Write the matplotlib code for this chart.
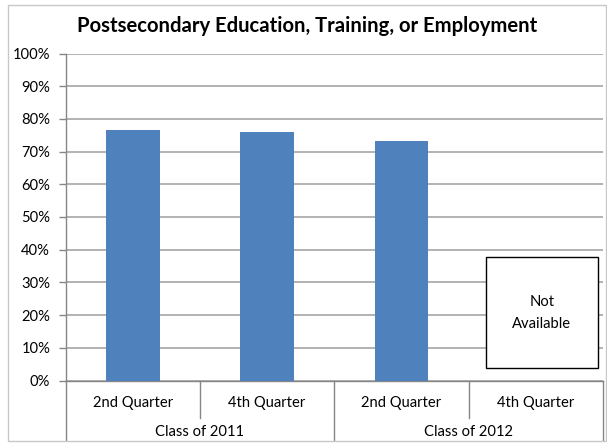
import matplotlib
matplotlib.use("Agg")
import matplotlib.pyplot as plt
from matplotlib.patches import Rectangle

plt.rcParams['font.family'] = ['Lato', 'DejaVu Sans']

quarters = ['2nd Quarter', '4th Quarter', '2nd Quarter', '4th Quarter']
classes = ['Class of 2011', 'Class of 2012']
rates = [0.767, 0.759, 0.733]   # last quarter of 2012 not reported yet
yticks = [0, 0.1, 0.2, 0.3, 0.4, 0.5, 0.6, 0.7, 0.8, 0.9, 1.0]

bar_color = '#4F81BD'
grid_color = '#A6A6A6'
axis_color = '#868686'
fs = 10.6

fig = plt.figure(figsize=(6.07, 4.45), dpi=100)
W, H = 607, 445
ax = fig.add_axes([65.5 / W, (H - 380.5) / H, (603 - 65.5) / W, (380.5 - 53.5) / H])

# outer chart border
fig.patches.append(Rectangle((8 / W, (H - 441) / H), (606 - 8) / W, (441 - 5) / H,
                             transform=fig.transFigure, fill=False,
                             edgecolor='#C8C8C8', lw=1.0))

x = list(range(len(rates)))
ax.bar(x, rates, width=0.4, color=bar_color, zorder=3)

ax.set_xlim(-0.5, len(quarters) - 0.5)
ax.set_ylim(0, 1.0)
ax.set_yticks(yticks)
ax.set_yticklabels([f'{int(round(v * 100))}%' for v in yticks], fontsize=fs)
ax.set_xticks([])
ax.yaxis.grid(True, color=grid_color, lw=1.2, zorder=0)
ax.tick_params(axis='y', length=5, width=1, color=axis_color, pad=6)

for side in ['top', 'right']:
    ax.spines[side].set_visible(False)
for side in ['left', 'bottom']:
    ax.spines[side].set_color(axis_color)
    ax.spines[side].set_linewidth(1)

# placeholder box for the missing quarter
ax.add_patch(Rectangle((2.63, 0.037), 0.83, 0.34, facecolor='white',
                       edgecolor='black', lw=1, zorder=4))
ax.text(3.045, 0.207, 'Not\nAvailable', ha='center', va='center',
        fontsize=fs, linespacing=1.75, zorder=5)

fig.text(307 / W, (H - 26) / H, 'Postsecondary Education, Training, or Employment',
         ha='center', va='center', fontsize=14.6, fontweight='bold')

# two-level category axis
trans = ax.get_xaxis_transform()
for i, q in enumerate(quarters):
    ax.text(i, -0.07, q, transform=trans, ha='center', va='center', fontsize=fs)
for j, c in enumerate(classes):
    ax.text(2 * j + 0.5, -0.158, c, transform=trans, ha='center', va='center', fontsize=fs)
for xs in [0.5, 2.5]:
    ax.plot([xs, xs], [0, -0.115], transform=trans, color=axis_color, lw=1, clip_on=False)
for xs in [-0.5, 1.5, 3.5]:
    ax.plot([xs, xs], [0, -0.182], transform=trans, color=axis_color, lw=1, clip_on=False)

fig.savefig('out.png', dpi=100)
